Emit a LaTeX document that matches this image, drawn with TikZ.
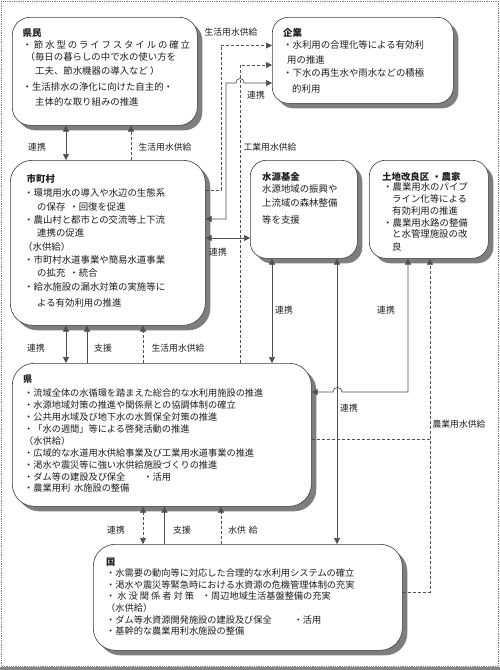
\documentclass[tikz,border=0pt]{standalone}
\usepackage{fontspec}
\setmainfont{Noto Sans CJK JP}
\usetikzlibrary{arrows.meta,shadows}
\definecolor{lncol}{HTML}{505050}
\definecolor{bdcol}{HTML}{3C3C3C}
\definecolor{shcol}{HTML}{7E7E7E}
\definecolor{txcol}{HTML}{1E1E1E}
\begin{document}
\begin{tikzpicture}[x=1pt,y=-1pt,
  box/.style={draw=bdcol,line width=0.6pt,fill=white,rounded corners=#1,
     drop shadow={shadow xshift=5pt,shadow yshift=-5pt,fill=shcol,opacity=1},
     inner sep=0pt,anchor=north west},
  box/.default=18pt,
  tx/.style={anchor=west,inner sep=0pt,text=txcol,font=\fontsize{#1}{#1}\selectfont},
  tx/.default=9.4,
  hd/.style={anchor=west,inner sep=0pt,text=txcol,font=\bfseries\fontsize{#1}{#1}\selectfont},
  hd/.default=9.4,
  lab/.style={inner sep=0pt,text=txcol,font=\fontsize{8.8}{8.8}\selectfont},
  con/.style={draw=lncol,line width=0.7pt},
  ar/.style={con,-{Triangle[length=6pt,width=6pt]}},
  dar/.style={con,{Triangle[length=6pt,width=6pt]}-{Triangle[length=6pt,width=6pt]}},
  dsh/.style={dash pattern=on 3pt off 2pt}]
\useasboundingbox (0,0) rectangle (500,670);
\fill[white] (0,0) rectangle (500,670);
\draw[black!50,line width=0.8pt,densely dotted] (1,1) rectangle (498.5,666);
\fill[black!47] (0,667) rectangle (500,670);

% ---------- boxes ----------
\node[box,minimum width=185pt,minimum height=108pt] (kenmin) at (12,17) {};
\node[box=16pt,minimum width=181pt,minimum height=86pt] (kigyo) at (272,17) {};
\node[box=22pt,minimum width=195pt,minimum height=165pt] (shichoson) at (10,160) {};
\node[box=16pt,minimum width=107pt,minimum height=98pt] (suigen) at (250,160) {};
\node[box=16pt,minimum width=119pt,minimum height=98pt] (tochi) at (369,160) {};
\node[box=22pt,minimum width=299pt,minimum height=143pt] (ken) at (12,363) {};
\node[box=22pt,minimum width=309pt,minimum height=106pt] (kuni) at (93,544) {};

% ---------- texts: 県民 ----------
\node[hd] (kenmin-h) at (22.5,33) {県民};
\node[tx] (kenmin-1) at (22.5,45) {\addfontfeature{LetterSpace=20}・節水型のライフスタイルの確立};
\node[tx] (kenmin-2) at (25.5,57) {（毎日の暮らしの中で水の使い方を};
\node[tx] (kenmin-3) at (35,71) {工夫、節水機器の導入など ）};
\node[tx] (kenmin-4) at (22.5,87) {・生活排水の浄化に向けた自主的・};
\node[tx] (kenmin-5) at (35,102) {主体的な取り組みの推進};

% ---------- 企業 ----------
\node[hd] (kigyo-h) at (283,33) {企業};
\node[tx] (kigyo-1) at (283,44.5) {・水利用の合理化等による有効利};
\node[tx] (kigyo-2) at (287,60) {用の推進};
\node[tx] (kigyo-3) at (283,73) {・下水の再生水や雨水などの積極};
\node[tx] (kigyo-4) at (292,89) {的利用};

% ---------- 市町村 ----------
\node[hd] (shi-h) at (26.5,179) {市町村};
\node[tx] (shi-1) at (24,193) {・環境用水の導入や水辺の生態系};
\node[tx] (shi-2) at (37,207) {の保存\hspace{4pt}・回復を促進};
\node[tx] (shi-3) at (24,220) {・農山村と都市との交流等上下流};
\node[tx] (shi-4) at (37,233) {連携の促進};
\node[tx] (shi-5) at (23,247) {（水供給）};
\node[tx] (shi-6) at (24,260) {・市町村水道事業や簡易水道事業};
\node[tx] (shi-7) at (37,273) {の拡充\hspace{4pt}・統合};
\node[tx] (shi-8) at (24,287) {・給水施設の漏水対策の実施等に};
\node[tx] (shi-9) at (37,303) {よる有効利用の推進};

% ---------- 水源基金 ----------
\node[hd] (sui-h) at (262,177) {水源基金};
\node[tx] (sui-1) at (262,189) {水源地域の振興や};
\node[tx] (sui-2) at (262,203) {上流域の森林整備};
\node[tx] (sui-3) at (262,220) {等を支援};

% ---------- 土地改良区・農家 ----------
\node[hd] (tochi-h) at (382,177) {土地改良区\hspace{3pt}・農家};
\node[tx] (tochi-1) at (383,187) {・農業用水のパイプ};
\node[tx] (tochi-2) at (392,199) {ライン化等による};
\node[tx] (tochi-3) at (392,211) {有効利用の推進};
\node[tx] (tochi-4) at (383,223) {・農業用水路の整備};
\node[tx] (tochi-5) at (392,234) {と水管理施設の改};
\node[tx] (tochi-6) at (392,247) {良};

% ---------- 県 ----------
\node[hd=9.2] (ken-h) at (23,379) {県};
\node[tx=9.2] (ken-1) at (24,393) {・流域全体の水循環を踏まえた総合的な水利用施設の推進};
\node[tx=9.2] (ken-2) at (24,405) {・水源地域対策の推進や関係県との協調体制の確立};
\node[tx=9.2] (ken-3) at (24,417) {・公共用水域及び地下水の水質保全対策の推進};
\node[tx=9.2] (ken-4) at (24,429) {・「水の週間」等による啓発活動の推進};
\node[tx=9.2] (ken-5) at (24,441) {（水供給）};
\node[tx=9.2] (ken-6) at (24,453) {・広域的な水道用水供給事業及び工業用水道事業の推進};
\node[tx=9.2] (ken-7) at (24,465) {・渇水や震災等に強い水供給施設づくりの推進};
\node[tx=9.2] (ken-8) at (24,477) {・ダム等の建設及び保全\hspace{18pt}・活用};
\node[tx=9.2] (ken-9) at (24,488) {・農業用利\hspace{4pt}水施設の整備};

% ---------- 国 ----------
\node[hd=9.2] (kuni-h) at (106,562) {国};
\node[tx=9.2] (kuni-1) at (106,573) {・水需要の動向等に対応した合理的な水利用システムの確立};
\node[tx=9.2] (kuni-2) at (106,584.5) {・渇水や震災等緊急時における水資源の危機管理体制の充実};
\node[tx=9.2] (kuni-3) at (106,596) {{\addfontfeature{LetterSpace=22}・水没関係者対策}\hspace{8pt}・周辺地域生活基盤整備の充実};
\node[tx=9.2] (kuni-4) at (106,607.5) {（水供給）};
\node[tx=9.2] (kuni-5) at (106,619.5) {・ダム等水資源開発施設の建設及び保全\hspace{22pt}・活用};
\node[tx=9.2] (kuni-6) at (106,631.5) {・基幹的な農業用利水施設の整備};

% ---------- connectors ----------
% 県民 - 市町村
\draw[dar] (66,0 |- kenmin.south) -- (66,0 |- shichoson.north);
\draw[ar,dsh] (131,0 |- shichoson.north) -- (131,0 |- kenmin.south);
% 市町村 - 企業
\draw[ar,dsh] (shichoson.east |- 0,190) -- (221,190) -- (221,45.5) -- (kigyo.west |- 0,45.5);
\draw[ar,dsh] (240,0 |- ken.north) -- (240,65) -- (kigyo.west |- 0,65);
\draw[dar] (shichoson.east |- 0,219) -- (226,219) -- (226,83) -- (236,83)
   .. controls (236,77) and (244,77) .. (244,83) -- (kigyo.west |- 0,83);
% 市町村 - 水源基金
\draw[dar] (shichoson.east |- 0,238) -- (suigen.west |- 0,238);
% 市町村 - 県
\draw[dar] (66,0 |- shichoson.south) -- (66,0 |- ken.north);
\draw[ar] (87,0 |- ken.north) -- (87,0 |- shichoson.south);
\draw[ar,dsh] (143,0 |- ken.north) -- (143,0 |- shichoson.south);
% 水源基金 - 県 / 国
\draw[dar] (272,0 |- suigen.south) -- (272,0 |- ken.north);
\draw[dar] (337,0 |- suigen.south) -- (337,0 |- kuni.north);
% 土地改良区 - 県
\draw[dar] (408,0 |- tochi.south) -- (408,392) -- (342,392)
   .. controls (342,386) and (333,386) .. (333,392) -- (ken.east |- 0,392);
% 農業用水供給
\draw[ar,dsh] (kuni.east |- 0,592) -- (430,592) -- (430,0 |- tochi.south);
\draw[con,dsh] (ken.east |- 0,439) -- (430,439);
% 県 - 国
\draw[dar,dsh] (143,0 |- ken.south) -- (143,0 |- kuni.north);
\draw[ar] (164.5,0 |- kuni.north) -- (164.5,0 |- ken.south);
\draw[ar,dsh] (221,0 |- kuni.north) -- (221,0 |- ken.south);

% ---------- labels ----------
\node[lab] (l1) at (231,32) {生活用水供給};
\node[lab] (l2) at (37,147) {連携};
\node[lab] (l3) at (165,147) {生活用水供給};
\node[lab] (l4) at (256,95) {連携};
\node[lab] (l5) at (270,147) {工業用水供給};
\node[lab] (l6) at (218,252) {連携};
\node[lab] (l7) at (36,348) {連携};
\node[lab] (l8) at (103,348) {支援};
\node[lab] (l9) at (178,348) {生活用水供給};
\node[lab] (l10) at (284,310) {連携};
\node[lab] (l11) at (386,310) {連携};
\node[lab] (l12) at (349,408) {連携};
\node[lab] (l13) at (459,424) {農業用水供給};
\node[lab] (l14) at (116,530) {連携};
\node[lab] (l15) at (182,530) {支援};
\node[lab] (l16) at (243,530) {水供\hspace{3pt}給};
\end{tikzpicture}
\end{document}
